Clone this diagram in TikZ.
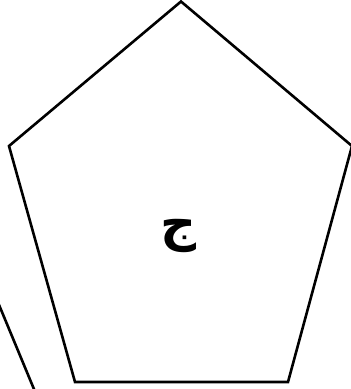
\documentclass[tikz,border=0pt]{standalone}
\usepackage{fontspec}
\usepackage{tikz}
\usetikzlibrary{calc,positioning}
\TeXXeTstate=1
\newfontfamily\arabicfont[Script=Arabic]{DejaVu Sans}

\begin{document}
\begin{tikzpicture}[x=1pt,y=-1pt,
      edge/.style={draw=black,line width=2.6pt,line join=miter},
      lbl/.style={font=\arabicfont\bfseries\fontsize{50}{60}\selectfont,inner sep=0pt}]
    \useasboundingbox (0,0) rectangle (351,389);
    \coordinate (T)  at (181,1.5);
    \coordinate (R)  at (352,146);
    \coordinate (BR) at (288,382);
    \coordinate (BL) at (75,382);
    \coordinate (L)  at (9,146);
    \draw[edge] (T) -- (R) -- (BR) -- (BL) -- (L) -- cycle;
    \coordinate (e1) at (-3,300);
    \coordinate (e2) at (36,394);
    \draw[edge] (e1) -- (e2);
    \node[lbl] (jeem) at (179,236) {\beginR ج\endR};
  \end{tikzpicture}
\end{document}
